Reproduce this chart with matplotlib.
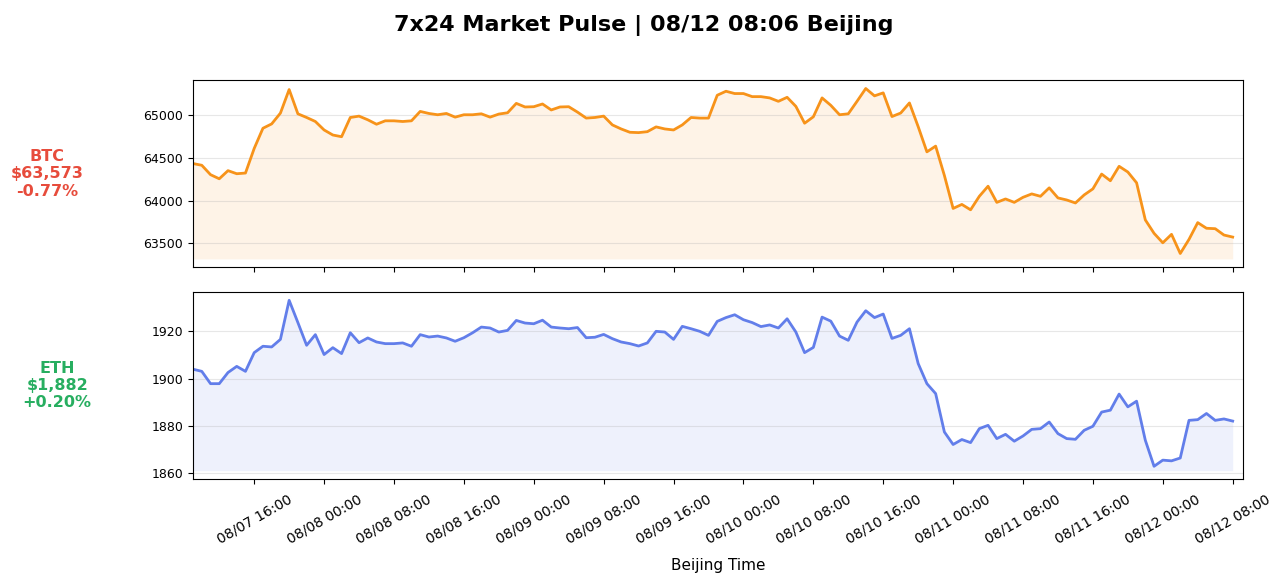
import matplotlib
matplotlib.use("Agg")
import matplotlib.pyplot as plt
import matplotlib.dates as mdates
import pandas as pd

# hourly closes, Beijing time
times = pd.date_range("2024-08-07 09:00", periods=120, freq="h")

btc = [64433, 64413, 64303, 64255, 64350, 64314, 64322, 64610, 64846, 64897,
       65023, 65299, 65015, 64972, 64925, 64826, 64767, 64747, 64972, 64988,
       64945, 64893, 64933, 64933, 64925, 64933, 65043, 65019, 65004, 65019,
       64976, 65004, 65004, 65015, 64976, 65012, 65027, 65137, 65095, 65098,
       65130, 65060, 65095, 65098, 65035, 64965, 64972, 64988, 64885, 64838,
       64799, 64795, 64806, 64862, 64838, 64826, 64885, 64972, 64965, 64965,
       65232, 65279, 65252, 65252, 65216, 65216, 65201, 65161, 65208, 65102,
       64905, 64980, 65201, 65114, 65004, 65015, 65161, 65311, 65225, 65260,
       64983, 65024, 65142, 64865, 64570, 64637, 64294, 63908, 63955, 63892,
       64050, 64168, 63979, 64019, 63979, 64038, 64078, 64050, 64149, 64031,
       64007, 63972, 64066, 64137, 64310, 64232, 64401, 64334, 64208, 63774,
       63617, 63506, 63605, 63381, 63546, 63742, 63676, 63671, 63597, 63573]

eth = [1904.0, 1903.1, 1897.9, 1897.9, 1902.6, 1905.2, 1903.1, 1911.0, 1913.7, 1913.4,
       1916.6, 1933.1, 1923.7, 1914.1, 1918.6, 1910.2, 1913.1, 1910.6, 1919.4, 1915.2,
       1917.2, 1915.5, 1914.8, 1914.8, 1915.1, 1913.7, 1918.6, 1917.6, 1918.0, 1917.2,
       1915.8, 1917.3, 1919.4, 1921.8, 1921.4, 1919.7, 1920.4, 1924.6, 1923.5, 1923.2,
       1924.7, 1921.8, 1921.4, 1921.1, 1921.6, 1917.3, 1917.5, 1918.7, 1916.9, 1915.5,
       1914.8, 1913.8, 1915.1, 1920.0, 1919.7, 1916.6, 1922.1, 1921.1, 1920.0, 1918.3,
       1924.2, 1925.8, 1927.0, 1924.9, 1923.7, 1922.0, 1922.7, 1921.4, 1925.3, 1919.7,
       1911.0, 1913.2, 1926.0, 1924.3, 1918.0, 1916.2, 1923.9, 1928.7, 1925.8, 1927.3,
       1917.0, 1918.3, 1921.1, 1906.4, 1897.9, 1893.7, 1877.5, 1872.2, 1874.3, 1873.0,
       1878.9, 1880.3, 1874.7, 1876.5, 1873.6, 1875.8, 1878.6, 1878.9, 1881.7, 1876.8,
       1874.7, 1874.4, 1878.2, 1879.9, 1885.9, 1886.7, 1893.5, 1888.1, 1890.5, 1874.0,
       1863.0, 1865.6, 1865.3, 1866.5, 1882.4, 1882.7, 1885.3, 1882.4, 1883.0, 1882.1]

coins = ["BTC", "ETH"]
prices = [btc, eth]
labels = ["BTC\n$63,573\n-0.77%", "ETH\n$1,882\n+0.20%"]
label_colors = ["#e74c3c", "#27ae60"]
line_colors = ["#f7931a", "#627eea"]

fig, axes = plt.subplots(2, 1, figsize=(12.87, 5.83), dpi=100, sharex=True)
fig.subplots_adjust(left=0.150, right=0.9656, top=0.8628, bottom=0.178, hspace=0.13)
fig.suptitle("7x24 Market Pulse | 08/12 08:06 Beijing", fontsize=16, fontweight="bold", y=0.975)

for ax, coin, p, lab, lc, c in zip(axes, coins, prices, labels, label_colors, line_colors):
    ax.plot(times, p, color=c, lw=2)
    ax.fill_between(times, p, min(p) * 0.999, color=c, alpha=0.1, lw=0)
    ax.grid(axis="y", alpha=0.3)
    ax.tick_params(axis="y", labelsize=9)
    ax.set_ylabel(lab, rotation=0, ha="right", va="center", multialignment="center",
                  fontsize=11.5, fontweight="bold", color=lc, labelpad=43)

axes[1].set_xlim(times[0], times[-1] + pd.Timedelta(minutes=69))
axes[1].xaxis.set_major_locator(mdates.HourLocator(byhour=[0, 8, 16]))
axes[1].xaxis.set_major_formatter(mdates.DateFormatter("%m/%d %H:%M"))
axes[1].tick_params(axis="x", labelsize=10, pad=6)
plt.setp(axes[1].get_xticklabels(), rotation=30, ha="center")
axes[1].set_xlabel("Beijing Time", fontsize=11, labelpad=8)

fig.savefig("out.png", dpi=100)
